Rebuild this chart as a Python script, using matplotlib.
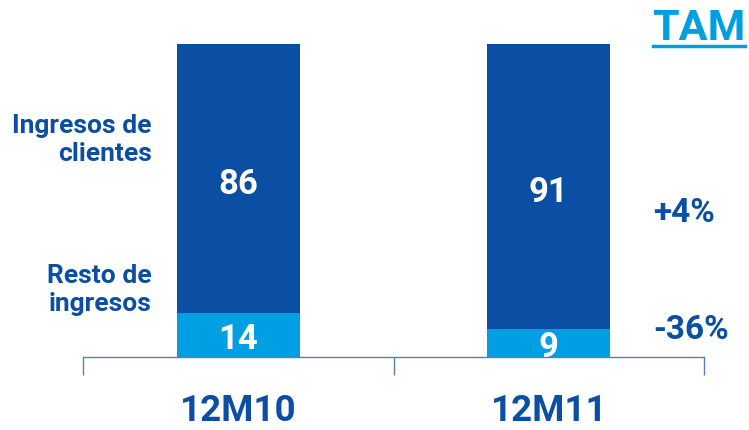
import matplotlib.pyplot as plt

periods = ["12M10", "12M11"]
clientes = [86, 91]
resto = [14, 9]
growth = ["+4%", "-36%"]
series_names = ["Ingresos de\nclientes", "Resto de\ningresos"]

dark = "#0A4FA3"
light = "#009FE3"

plt.rcParams["font.family"] = ["Roboto", "DejaVu Sans"]

fig = plt.figure(figsize=(7.49, 4.31), dpi=100)
ax = fig.add_axes([83 / 749, 73 / 431, 621 / 749, 313 / 431])

x = range(len(periods))
ax.bar(x, resto, width=0.397, color=light)
ax.bar(x, clientes, width=0.397, bottom=resto, color=dark)

for i in x:
    ax.text(i, resto[i] / 2 - 1, str(resto[i]), ha="center", va="center",
            color="white", fontsize=25, fontweight="bold")
    ax.text(i, resto[i] + clientes[i] / 2 - 1.5, str(clientes[i]), ha="center", va="center",
            color="white", fontsize=25, fontweight="bold")

ax.set_xlim(-0.5, 1.5)
ax.set_ylim(0, 100)
ax.set_xticks([0, 1])
ax.set_xticklabels(periods, fontsize=26.5, fontweight="bold", color=dark)
ax.tick_params(axis="x", which="major", length=0, pad=25)
ax.set_xticks([-0.5, 0.5, 1.5], minor=True)
ax.tick_params(axis="x", which="minor", length=13, width=1, color="#5B7DB5", direction="out")
ax.set_yticks([])
for s in ["top", "right", "left"]:
    ax.spines[s].set_visible(False)
ax.spines["bottom"].set_color("#5B7DB5")
ax.spines["bottom"].set_linewidth(1)

# series labels on the left
fig.text(152 / 749, 1 - 140 / 431, series_names[0], ha="right", va="center",
         fontsize=19, fontweight="bold", color=dark, linespacing=1.2)
fig.text(152 / 749, 1 - 290 / 431, series_names[1], ha="right", va="center",
         fontsize=19, fontweight="bold", color=dark, linespacing=1.2)

# growth labels on the right
fig.text(684 / 749, 1 - 213 / 431, growth[0], ha="center", va="center",
         fontsize=24, fontweight="bold", color=dark)
fig.text(691 / 749, 1 - 330 / 431, growth[1], ha="center", va="center",
         fontsize=24, fontweight="bold", color=dark)

fig.text(699 / 749, 1 - 29 / 431, "TAM", ha="center", va="center",
         fontsize=31, fontweight="bold", color=light)
fig.add_artist(plt.Line2D([653 / 749, 745 / 749], [1 - 47 / 431, 1 - 47 / 431],
                          color=light, linewidth=2.5))

fig.savefig("out.png", dpi=100)
